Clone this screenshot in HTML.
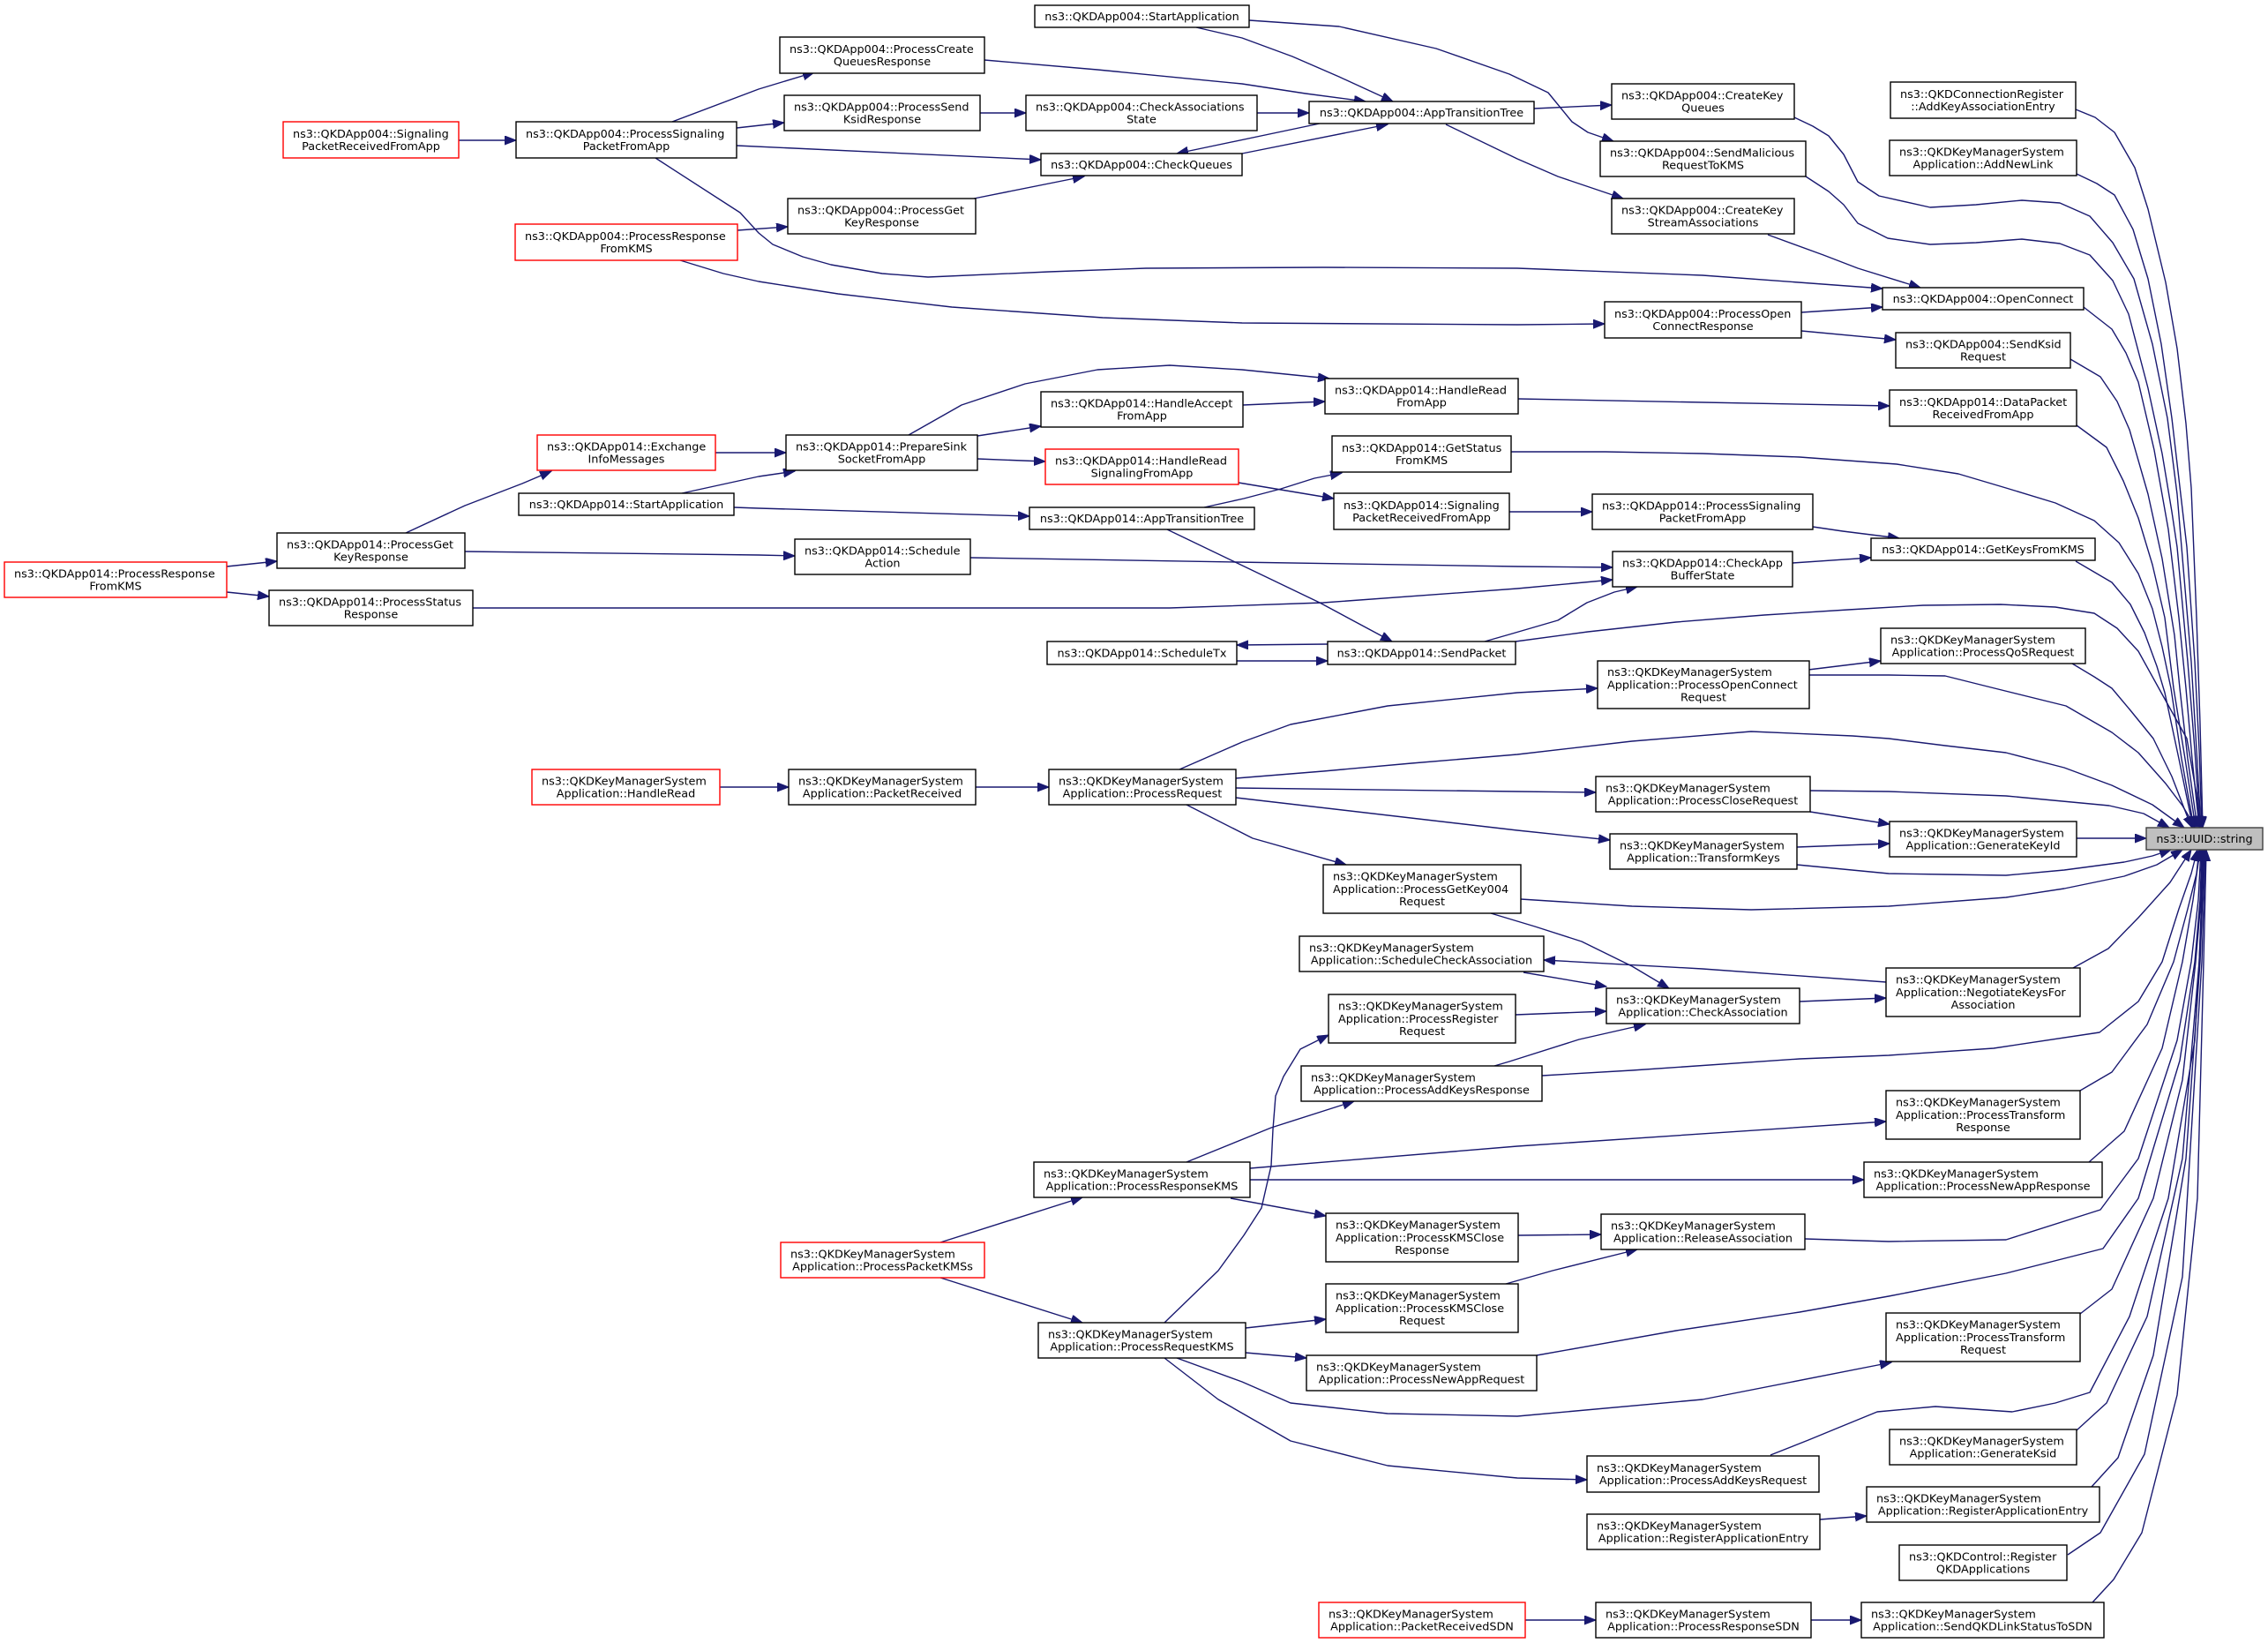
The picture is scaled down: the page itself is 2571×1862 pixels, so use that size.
<!DOCTYPE html>
<html><head><meta charset="utf-8"><style>
html,body{margin:0;padding:0;background:#fff;}
svg{display:block;}
.n rect{fill:#fff;stroke:#000;stroke-width:1.4;}
.n rect.r{stroke:#ff0000;}
.n rect.g{fill:#bfbfbf;stroke:#404040;}
.n text{font-family:"DejaVu Sans","Liberation Sans",sans-serif;font-size:12.8px;fill:#000;}
.n text.m{text-anchor:middle;}
.e path{fill:none;stroke:#191970;stroke-width:1.4;stroke-linejoin:round;marker-end:url(#a);}
</style></head><body>
<svg width="2571" height="1862" viewBox="0 0 2571 1862" xmlns="http://www.w3.org/2000/svg">
<defs><marker id="a" markerUnits="userSpaceOnUse" markerWidth="15" markerHeight="12" refX="13" refY="5" orient="auto"><path d="M0,0L13,5L0,10z" fill="#191970" stroke="#191970" stroke-width="1"/></marker></defs>
<rect x="0" y="0" width="2571" height="1862" fill="#fff"/>
<g class="e">
<path d="M520,159L585,159"/>
<path d="M762,138L860,101L923,82"/>
<path d="M835,145L889,139"/>
<path d="M835,165L1180,181"/>
<path d="M743,179L839,241L860,264L876,277L910,291L942,300L1000,310L1052,314L1189,308L1299,304L1500,303L1720,304L1930,312L2134,327"/>
<path d="M836,261L893,257"/>
<path d="M771,295L820,310L860,319L950,333L1079,348L1250,360L1408,366L1720,368L1819,367"/>
<path d="M1116,68L1244,79L1408,95L1480,106L1548,115"/>
<path d="M1111,128L1163,128"/>
<path d="M1425,128L1484,128"/>
<path d="M1496,140L1334,174"/>
<path d="M1408,174L1573,141"/>
<path d="M1356,31L1408,43L1465,64L1518,87L1579,115"/>
<path d="M1416,23L1518,30L1628,55L1711,84L1755,105L1782,138L1800,150L1829,160"/>
<path d="M1739,123L1827,119"/>
<path d="M1639,141L1720,180L1766,200L1840,225"/>
<path d="M2004,266L2067,289L2106,304L2177,326"/>
<path d="M2042,354L2134,348"/>
<path d="M2042,375L2149,385"/>
<path d="M1721,452L2142,460"/>
<path d="M1711,580L1805,580"/>
<path d="M2055,597L2089,602L2153,610"/>
<path d="M2032,638L2121,632"/>
<path d="M1030,493L1090,459L1162,435L1244,419L1326,414L1408,419L1507,429"/>
<path d="M1108,494L1180,483"/>
<path d="M1409,459L1502,455"/>
<path d="M1108,520L1185,523"/>
<path d="M1404,547L1512,565"/>
<path d="M1365,575L1410,565L1452,554L1490,542L1521,536"/>
<path d="M1323,600L1496,683L1578,727"/>
<path d="M811,513L891,513"/>
<path d="M773,559L860,540L901,534"/>
<path d="M832,575L860,576L1167,585"/>
<path d="M460,604L527,573L592,548L625,534"/>
<path d="M527,625L860,629L901,630"/>
<path d="M257,642L314,636"/>
<path d="M257,671L305,676"/>
<path d="M536,689L1326,689L1500,683L1720,667L1828,657"/>
<path d="M1100,632L1400,637L1720,642L1828,643"/>
<path d="M1683,727L1711,719L1766,703L1799,683L1830,671L1856,665"/>
<path d="M1505,730L1402,731"/>
<path d="M1402,749L1505,749"/>
<path d="M816,892L894,892"/>
<path d="M1106,892L1189,892"/>
<path d="M1337,872L1408,841L1463,821L1573,800L1720,785L1811,780"/>
<path d="M1401,893L1720,897L1809,898"/>
<path d="M1401,904L1720,941L1825,952"/>
<path d="M1345,912L1420,950L1526,980"/>
<path d="M2052,920L2142,934"/>
<path d="M2037,960L2142,956"/>
<path d="M2050,759L2132,749"/>
<path d="M1690,1035L1740,1050L1793,1067L1850,1095L1892,1120"/>
<path d="M2138,1113L1930,1098L1750,1088"/>
<path d="M1727,1102L1821,1118"/>
<path d="M1718,1150L1821,1146"/>
<path d="M1694,1208L1711,1203L1790,1178L1865,1161"/>
<path d="M2040,1135L2138,1131"/>
<path d="M1320,1499L1381,1440L1410,1400L1430,1369L1441,1321L1443,1280L1446,1242L1455,1220L1474,1189L1506,1173"/>
<path d="M1345,1317L1441,1278L1535,1248"/>
<path d="M1417,1324L1720,1299L2138,1271"/>
<path d="M1417,1337L2113,1337"/>
<path d="M1395,1358L1503,1378"/>
<path d="M1066,1408L1227,1357"/>
<path d="M1066,1448L1227,1499"/>
<path d="M1412,1505L1503,1495"/>
<path d="M1412,1533L1481,1539"/>
<path d="M1334,1539L1408,1566L1463,1590L1573,1602L1720,1605L1930,1586L2144,1544"/>
<path d="M1320,1539L1381,1586L1463,1633L1573,1661L1720,1675L1799,1677"/>
<path d="M1721,1400L1815,1399"/>
<path d="M1700,1457L1760,1440L1856,1416"/>
<path d="M2063,1722L2116,1718"/>
<path d="M1729,1836L1809,1836"/>
<path d="M2053,1836L2110,1836"/>
<path d="M1104,225L1229,200"/>
<!-- fan into UUID -->
<path d="M2353,124L2375,133L2397,150L2420,190L2435,237L2455,320L2468,395L2478,480L2484,553L2490,700L2494,820L2497,938"/>
<path d="M2354,197L2377,208L2397,221L2418,260L2435,316L2450,390L2462,474L2472,560L2479,620L2488,750L2493,850L2496,938"/>
<path d="M2034,133L2055,143L2073,154L2090,175L2106,206L2130,222L2188,235L2240,232L2292,227L2335,230L2369,245L2395,275L2419,316L2440,390L2457,474L2468,560L2473,620L2484,750L2490,850L2495,938"/>
<path d="M2047,200L2073,217L2090,232L2106,253L2140,270L2188,277L2240,275L2292,271L2335,276L2369,289L2395,318L2413,356L2435,440L2451,514L2462,580L2468,620L2480,750L2488,850L2494,938"/>
<path d="M2362,348L2394,373L2410,400L2424,433L2442,510L2458,600L2470,700L2478,780L2485,860L2493,938"/>
<path d="M2347,407L2381,427L2400,455L2414,487L2435,560L2451,633L2465,720L2471,780L2480,860L2491,938"/>
<path d="M2354,482L2388,507L2407,545L2424,587L2440,640L2454,700L2464,780L2477,860L2489,938"/>
<path d="M1713,512L1820,512L1930,514L2040,518L2150,526L2220,537L2274,553L2330,570L2374,590L2402,615L2424,650L2440,690L2451,733L2461,780L2473,860L2487,938"/>
<path d="M2353,636L2394,660L2415,685L2431,717L2445,755L2454,785L2470,860L2486,938"/>
<path d="M1718,727L1800,716L1900,705L2000,697L2095,691L2180,686L2268,685L2330,688L2374,695L2400,712L2424,738L2450,785L2479,837L2490,900L2493,938"/>
<path d="M2349,752L2374,767L2394,780L2415,805L2441,837L2462,880L2479,924L2485,938"/>
<path d="M2050,765L2141,765L2205,766L2261,780L2342,800L2394,830L2424,853L2455,888L2474,913L2489,938"/>
<path d="M1401,882L1500,874L1600,865L1720,855L1850,840L1985,829L2100,834L2141,837L2205,845L2274,853L2340,870L2394,890L2440,912L2476,938"/>
<path d="M2052,896L2141,897L2274,902L2391,913L2430,922L2459,938"/>
<path d="M2354,950L2433,950"/>
<path d="M2037,980L2141,990L2205,991L2274,992L2340,986L2408,977L2440,970L2461,963"/>
<path d="M1724,1019L1850,1027L1985,1031L2141,1027L2274,1017L2340,1007L2408,993L2445,980L2474,963"/>
<path d="M2350,1097L2390,1075L2424,1040L2460,1000L2484,963"/>
<path d="M1748,1219L1850,1213L2040,1200L2141,1196L2260,1188L2380,1170L2424,1135L2451,1090L2470,1030L2484,990L2491,963"/>
<path d="M2358,1236L2394,1215L2434,1161L2464,1090L2480,1030L2490,990L2493,963"/>
<path d="M2368,1317L2408,1282L2451,1188L2474,1090L2486,1020L2494,963"/>
<path d="M2046,1404L2141,1407L2274,1405L2381,1371L2424,1313L2468,1179L2484,1090L2492,1020L2495,963"/>
<path d="M1742,1536L1900,1508L2040,1487L2141,1469L2274,1443L2384,1415L2424,1358L2471,1202L2488,1090L2494,1020L2496,963"/>
<path d="M2358,1489L2394,1461L2441,1358L2474,1224L2489,1090L2495,1020L2497,963"/>
<path d="M2007,1649L2050,1632L2084,1618L2128,1600L2194,1594L2281,1600L2330,1590L2369,1578L2414,1492L2458,1358L2488,1179L2493,1090L2496,1020L2498,963"/>
<path d="M2354,1621L2388,1590L2434,1492L2474,1313L2493,1090L2498,963"/>
<path d="M2371,1685L2401,1652L2441,1536L2478,1313L2494,1090L2499,963"/>
<path d="M2344,1762L2381,1737L2431,1648L2474,1447L2496,1090L2500,963"/>
<path d="M2372,1816L2396,1790L2428,1737L2468,1581L2491,1358L2498,1090L2501,963"/>
</g>
<g class="n">
<rect x="1173" y="6" width="243" height="25"/><text class="m" x="1294.5" y="22.9">ns3::QKDApp004::StartApplication</text>
<rect x="884" y="42" width="232" height="41"/><text x="895" y="59.8">ns3::QKDApp004::ProcessCreate</text><text class="m" x="1000" y="74">QueuesResponse</text>
<rect x="889" y="108" width="222" height="40"/><text x="900" y="125.3">ns3::QKDApp004::ProcessSend</text><text class="m" x="1000" y="139.5">KsidResponse</text>
<rect x="1163" y="108" width="262" height="40"/><text x="1174" y="125.3">ns3::QKDApp004::CheckAssociations</text><text class="m" x="1294" y="139.5">State</text>
<rect x="1484" y="115" width="255" height="25"/><text class="m" x="1611.5" y="131.9">ns3::QKDApp004::AppTransitionTree</text>
<rect x="1180" y="174" width="228" height="25"/><text class="m" x="1294" y="190.9">ns3::QKDApp004::CheckQueues</text>
<rect x="893" y="225" width="213" height="40"/><text x="904" y="242.3">ns3::QKDApp004::ProcessGet</text><text class="m" x="999.5" y="256.5">KeyResponse</text>
<rect class="r" x="321" y="138" width="199" height="41"/><text x="332" y="155.8">ns3::QKDApp004::Signaling</text><text class="m" x="420.5" y="170">PacketReceivedFromApp</text>
<rect x="585" y="138" width="250" height="41"/><text x="596" y="155.8">ns3::QKDApp004::ProcessSignaling</text><text class="m" x="710" y="170">PacketFromApp</text>
<rect class="r" x="584" y="254" width="252" height="41"/><text x="595" y="271.8">ns3::QKDApp004::ProcessResponse</text><text class="m" x="710" y="286">FromKMS</text>
<rect x="1827" y="95" width="207" height="40"/><text x="1838" y="112.3">ns3::QKDApp004::CreateKey</text><text class="m" x="1930.5" y="126.5">Queues</text>
<rect x="1814" y="160" width="233" height="40"/><text x="1825" y="177.3">ns3::QKDApp004::SendMalicious</text><text class="m" x="1930.5" y="191.5">RequestToKMS</text>
<rect x="1827" y="225" width="207" height="40"/><text x="1838" y="242.3">ns3::QKDApp004::CreateKey</text><text class="m" x="1930.5" y="256.5">StreamAssociations</text>
<rect x="1819" y="342" width="223" height="41"/><text x="1830" y="359.8">ns3::QKDApp004::ProcessOpen</text><text class="m" x="1930.5" y="374">ConnectResponse</text>
<rect x="2143" y="93" width="210" height="41"/><text x="2154" y="110.8">ns3::QKDConnectionRegister</text><text class="m" x="2248" y="125">::AddKeyAssociationEntry</text>
<rect x="2142" y="159" width="212" height="40"/><text x="2153" y="176.3">ns3::QKDKeyManagerSystem</text><text class="m" x="2248" y="190.5">Application::AddNewLink</text>
<rect x="2134" y="326" width="228" height="25"/><text class="m" x="2248" y="342.9">ns3::QKDApp004::OpenConnect</text>
<rect x="2149" y="377" width="198" height="40"/><text x="2160" y="394.3">ns3::QKDApp004::SendKsid</text><text class="m" x="2248" y="408.5">Request</text>
<rect x="2142" y="442" width="212" height="41"/><text x="2153" y="459.8">ns3::QKDApp014::DataPacket</text><text class="m" x="2248" y="474">ReceivedFromApp</text>
<rect x="1502" y="429" width="219" height="40"/><text x="1513" y="446.3">ns3::QKDApp014::HandleRead</text><text class="m" x="1611.5" y="460.5">FromApp</text>
<rect x="1180" y="444" width="229" height="40"/><text x="1191" y="461.3">ns3::QKDApp014::HandleAccept</text><text class="m" x="1294.5" y="475.5">FromApp</text>
<rect x="891" y="493" width="217" height="40"/><text x="902" y="510.3">ns3::QKDApp014::PrepareSink</text><text class="m" x="999.5" y="524.5">SocketFromApp</text>
<rect class="r" x="609" y="493" width="202" height="40"/><text x="620" y="510.3">ns3::QKDApp014::Exchange</text><text class="m" x="710" y="524.5">InfoMessages</text>
<rect x="588" y="559" width="244" height="25"/><text class="m" x="710" y="575.9">ns3::QKDApp014::StartApplication</text>
<rect class="r" x="1185" y="509" width="219" height="40"/><text x="1196" y="526.3">ns3::QKDApp014::HandleRead</text><text class="m" x="1294.5" y="540.5">SignalingFromApp</text>
<rect x="1510" y="494" width="203" height="41"/><text x="1521" y="511.8">ns3::QKDApp014::GetStatus</text><text class="m" x="1611.5" y="526">FromKMS</text>
<rect x="1512" y="559" width="199" height="41"/><text x="1523" y="576.8">ns3::QKDApp014::Signaling</text><text class="m" x="1611.5" y="591">PacketReceivedFromApp</text>
<rect x="1167" y="575" width="255" height="25"/><text class="m" x="1294.5" y="591.9">ns3::QKDApp014::AppTransitionTree</text>
<rect x="1805" y="560" width="250" height="40"/><text x="1816" y="577.3">ns3::QKDApp014::ProcessSignaling</text><text class="m" x="1930" y="591.5">PacketFromApp</text>
<rect x="2121" y="610" width="254" height="25"/><text class="m" x="2248" y="626.9">ns3::QKDApp014::GetKeysFromKMS</text>
<rect x="314" y="604" width="213" height="40"/><text x="325" y="621.3">ns3::QKDApp014::ProcessGet</text><text class="m" x="420.5" y="635.5">KeyResponse</text>
<rect class="r" x="5" y="637" width="252" height="40"/><text x="16" y="654.3">ns3::QKDApp014::ProcessResponse</text><text class="m" x="131" y="668.5">FromKMS</text>
<rect x="305" y="669" width="231" height="40"/><text x="316" y="686.3">ns3::QKDApp014::ProcessStatus</text><text class="m" x="420.5" y="700.5">Response</text>
<rect x="901" y="611" width="199" height="40"/><text x="912" y="628.3">ns3::QKDApp014::Schedule</text><text class="m" x="1000.5" y="642.5">Action</text>
<rect x="1828" y="625" width="204" height="40"/><text x="1839" y="642.3">ns3::QKDApp014::CheckApp</text><text class="m" x="1930" y="656.5">BufferState</text>
<rect x="1187" y="727" width="215" height="26"/><text class="m" x="1294.5" y="744.4">ns3::QKDApp014::ScheduleTx</text>
<rect x="1505" y="727" width="213" height="26"/><text class="m" x="1611.5" y="744.4">ns3::QKDApp014::SendPacket</text>
<rect x="2132" y="712" width="232" height="40"/><text x="2143" y="729.3">ns3::QKDKeyManagerSystem</text><text class="m" x="2248" y="743.5">Application::ProcessQoSRequest</text>
<rect x="1811" y="749" width="240" height="54"/><text x="1822" y="766.2">ns3::QKDKeyManagerSystem</text><text x="1822" y="780.4">Application::ProcessOpenConnect</text><text class="m" x="1931" y="794.6">Request</text>
<rect class="r" x="603" y="872" width="213" height="40"/><text x="614" y="889.3">ns3::QKDKeyManagerSystem</text><text class="m" x="709.5" y="903.5">Application::HandleRead</text>
<rect x="894" y="872" width="212" height="40"/><text x="905" y="889.3">ns3::QKDKeyManagerSystem</text><text class="m" x="1000" y="903.5">Application::PacketReceived</text>
<rect x="1189" y="872" width="212" height="40"/><text x="1200" y="889.3">ns3::QKDKeyManagerSystem</text><text class="m" x="1295" y="903.5">Application::ProcessRequest</text>
<rect x="1809" y="880" width="243" height="40"/><text x="1820" y="897.3">ns3::QKDKeyManagerSystem</text><text class="m" x="1930.5" y="911.5">Application::ProcessCloseRequest</text>
<rect x="2142" y="931" width="212" height="40"/><text x="2153" y="948.3">ns3::QKDKeyManagerSystem</text><text class="m" x="2248" y="962.5">Application::GenerateKeyId</text>
<rect class="g" x="2433" y="938" width="132" height="25"/><text class="m" x="2499" y="954.9">ns3::UUID::string</text>
<rect x="1825" y="945" width="212" height="40"/><text x="1836" y="962.3">ns3::QKDKeyManagerSystem</text><text class="m" x="1931" y="976.5">Application::TransformKeys</text>
<rect x="1500" y="980" width="224" height="55"/><text x="1511" y="997.7">ns3::QKDKeyManagerSystem</text><text x="1511" y="1011.9">Application::ProcessGetKey004</text><text class="m" x="1612" y="1026.1">Request</text>
<rect x="1473" y="1061" width="277" height="40"/><text x="1484" y="1078.3">ns3::QKDKeyManagerSystem</text><text class="m" x="1611.5" y="1092.5">Application::ScheduleCheckAssociation</text>
<rect x="2138" y="1097" width="220" height="55"/><text x="2149" y="1114.7">ns3::QKDKeyManagerSystem</text><text x="2149" y="1128.9">Application::NegotiateKeysFor</text><text class="m" x="2248" y="1143.1">Association</text>
<rect x="1821" y="1120" width="219" height="40"/><text x="1832" y="1137.3">ns3::QKDKeyManagerSystem</text><text class="m" x="1930.5" y="1151.5">Application::CheckAssociation</text>
<rect x="1506" y="1127" width="212" height="55"/><text x="1517" y="1144.7">ns3::QKDKeyManagerSystem</text><text x="1517" y="1158.9">Application::ProcessRegister</text><text class="m" x="1612" y="1173.1">Request</text>
<rect x="1475" y="1208" width="273" height="40"/><text x="1486" y="1225.3">ns3::QKDKeyManagerSystem</text><text class="m" x="1611.5" y="1239.5">Application::ProcessAddKeysResponse</text>
<rect x="2138" y="1236" width="220" height="55"/><text x="2149" y="1253.7">ns3::QKDKeyManagerSystem</text><text x="2149" y="1267.9">Application::ProcessTransform</text><text class="m" x="2248" y="1282.1">Response</text>
<rect x="1172" y="1317" width="245" height="40"/><text x="1183" y="1334.3">ns3::QKDKeyManagerSystem</text><text class="m" x="1294.5" y="1348.5">Application::ProcessResponseKMS</text>
<rect x="2113" y="1317" width="270" height="40"/><text x="2124" y="1334.3">ns3::QKDKeyManagerSystem</text><text class="m" x="2248" y="1348.5">Application::ProcessNewAppResponse</text>
<rect x="1503" y="1375" width="218" height="55"/><text x="1514" y="1392.7">ns3::QKDKeyManagerSystem</text><text x="1514" y="1406.9">Application::ProcessKMSClose</text><text class="m" x="1612" y="1421.1">Response</text>
<rect x="1815" y="1376" width="231" height="40"/><text x="1826" y="1393.3">ns3::QKDKeyManagerSystem</text><text class="m" x="1930.5" y="1407.5">Application::ReleaseAssociation</text>
<rect class="r" x="885" y="1408" width="231" height="40"/><text x="896" y="1425.3">ns3::QKDKeyManagerSystem</text><text class="m" x="1000.5" y="1439.5">Application::ProcessPacketKMSs</text>
<rect x="1503" y="1455" width="218" height="55"/><text x="1514" y="1472.7">ns3::QKDKeyManagerSystem</text><text x="1514" y="1486.9">Application::ProcessKMSClose</text><text class="m" x="1612" y="1501.1">Request</text>
<rect x="2138" y="1488" width="220" height="55"/><text x="2149" y="1505.7">ns3::QKDKeyManagerSystem</text><text x="2149" y="1519.9">Application::ProcessTransform</text><text class="m" x="2248" y="1534.1">Request</text>
<rect x="1177" y="1499" width="235" height="40"/><text x="1188" y="1516.3">ns3::QKDKeyManagerSystem</text><text class="m" x="1294.5" y="1530.5">Application::ProcessRequestKMS</text>
<rect x="1481" y="1536" width="261" height="40"/><text x="1492" y="1553.3">ns3::QKDKeyManagerSystem</text><text class="m" x="1611.5" y="1567.5">Application::ProcessNewAppRequest</text>
<rect x="2142" y="1620" width="212" height="40"/><text x="2153" y="1637.3">ns3::QKDKeyManagerSystem</text><text class="m" x="2248" y="1651.5">Application::GenerateKsid</text>
<rect x="1799" y="1650" width="263" height="41"/><text x="1810" y="1667.8">ns3::QKDKeyManagerSystem</text><text class="m" x="1930.5" y="1682">Application::ProcessAddKeysRequest</text>
<rect x="2116" y="1685" width="264" height="40"/><text x="2127" y="1702.3">ns3::QKDKeyManagerSystem</text><text class="m" x="2248" y="1716.5">Application::RegisterApplicationEntry</text>
<rect x="1799" y="1716" width="264" height="40"/><text x="1810" y="1733.3">ns3::QKDKeyManagerSystem</text><text class="m" x="1931" y="1747.5">Application::RegisterApplicationEntry</text>
<rect x="2153" y="1751" width="190" height="40"/><text x="2164" y="1768.3">ns3::QKDControl::Register</text><text class="m" x="2248" y="1782.5">QKDApplications</text>
<rect class="r" x="1495" y="1816" width="234" height="40"/><text x="1506" y="1833.3">ns3::QKDKeyManagerSystem</text><text class="m" x="1612" y="1847.5">Application::PacketReceivedSDN</text>
<rect x="1809" y="1816" width="244" height="40"/><text x="1820" y="1833.3">ns3::QKDKeyManagerSystem</text><text class="m" x="1931" y="1847.5">Application::ProcessResponseSDN</text>
<rect x="2110" y="1816" width="275" height="40"/><text x="2121" y="1833.3">ns3::QKDKeyManagerSystem</text><text class="m" x="2247.5" y="1847.5">Application::SendQKDLinkStatusToSDN</text>
</g>
</svg>
</body></html>
